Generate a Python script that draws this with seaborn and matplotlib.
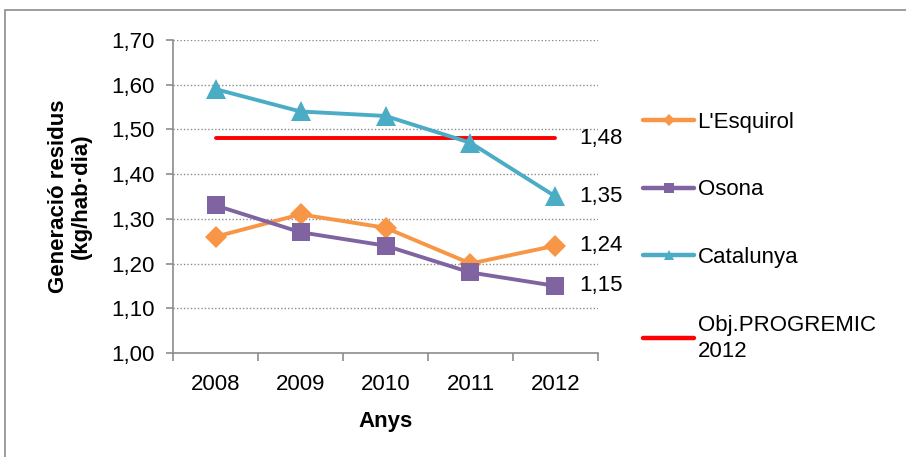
import matplotlib
matplotlib.use("Agg")
import matplotlib.pyplot as plt
from matplotlib.lines import Line2D
from matplotlib.patches import Rectangle
import seaborn as sns
import pandas as pd

years = ["2008", "2009", "2010", "2011", "2012"]
esquirol = [1.26, 1.31, 1.28, 1.20, 1.24]
osona = [1.33, 1.27, 1.24, 1.18, 1.15]
catalunya = [1.59, 1.54, 1.53, 1.47, 1.35]
objectiu = [1.48, 1.48, 1.48, 1.48, 1.48]

series_names = ["L'Esquirol", "Osona", "Catalunya", "Obj.PROGREMIC\n2012"]
series_values = [esquirol, osona, catalunya, objectiu]
colors = ["#F79646", "#8064A2", "#4BACC6", "#FF0000"]
markers = ["D", "s", "^", None]
marker_sizes = [11, 13, 14, 0]
FS = 16

sns.set_theme(style="white")
plt.rcParams["font.family"] = ["Liberation Sans", "DejaVu Sans"]
plt.rcParams.update({"text.color": "black", "axes.labelcolor": "black",
                     "xtick.color": "black", "ytick.color": "black"})

fig = plt.figure(figsize=(9.06, 4.57), dpi=100)
ax = fig.add_axes([0.191, 0.2276, 0.469, 0.685])

# outer chart frame
fig.patches.append(Rectangle((5 / 906, -0.1), 1.2, 1 - 10 / 457 + 0.1,
                             transform=fig.transFigure, fill=False,
                             edgecolor="#8C8C8C", linewidth=1.2, zorder=0))

handles = []
for name, vals, col, mk, ms in zip(series_names, series_values, colors, markers, marker_sizes):
    df = pd.DataFrame({"Any": years, "Valor": vals})
    sns.lineplot(data=df, x="Any", y="Valor", ax=ax, color=col, linewidth=2.8,
                 marker=mk, markersize=ms, markeredgewidth=0, sort=False,
                 solid_capstyle="round", zorder=3 if mk else 2)
    handles.append(Line2D([], [], color=col, linewidth=3.2, marker=mk,
                          markersize=ms * 0.55 if mk else 0, markeredgewidth=0,
                          solid_capstyle="round"))

# value labels at the last year
for vals in [objectiu, catalunya, esquirol, osona]:
    ax.annotate(f"{vals[-1]:.2f}".replace(".", ","), xy=(len(years) - 1, vals[-1]),
                xytext=(17, 0), textcoords="offset points", va="center", ha="left",
                fontsize=FS, color="black")

ax.set_xlim(-0.5, len(years) - 0.5)
ax.set_ylim(1.0, 1.7)
yt = [1.0 + 0.1 * i for i in range(8)]
ax.set_yticks(yt)
ax.set_yticklabels([f"{v:.2f}".replace(".", ",") for v in yt], fontsize=FS)
ax.set_xticks(range(len(years)))
ax.set_xticklabels(years, fontsize=FS)
ax.set_xticks([i - 0.5 for i in range(len(years) + 1)], minor=True)
ax.tick_params(axis="x", which="major", length=0, pad=15, labelcolor="black")
ax.tick_params(axis="x", which="minor", length=6, width=1.2, color="#8C8C8C", bottom=True)
ax.tick_params(axis="y", which="major", length=5, width=1.2, color="#8C8C8C",
               labelcolor="black", left=True, pad=8)

for y in yt[1:]:
    ax.axhline(y, color="#8C8C8C", linestyle=(0, (1, 1.5)), linewidth=1.0, zorder=1)

for s in ["top", "right"]:
    ax.spines[s].set_visible(False)
for s in ["left", "bottom"]:
    ax.spines[s].set_color("#8C8C8C")
    ax.spines[s].set_linewidth(1.2)

ax.set_xlabel("Anys", fontsize=FS, fontweight="bold", labelpad=12, color="black")
ax.set_ylabel("Generació residus\n(kg/hab·dia)", fontsize=FS, fontweight="bold",
              labelpad=14, linespacing=1.1, color="black")

leg = fig.legend(handles, series_names, loc="upper left", bbox_to_anchor=(0.700, 0.775),
                 frameon=False, fontsize=FS, handlelength=2.3, handletextpad=0.15,
                 labelspacing=2.1, borderaxespad=0)
for t in leg.get_texts():
    t.set_color("black")
    t.set_linespacing(1.3)

fig.savefig("out.png", dpi=100)
